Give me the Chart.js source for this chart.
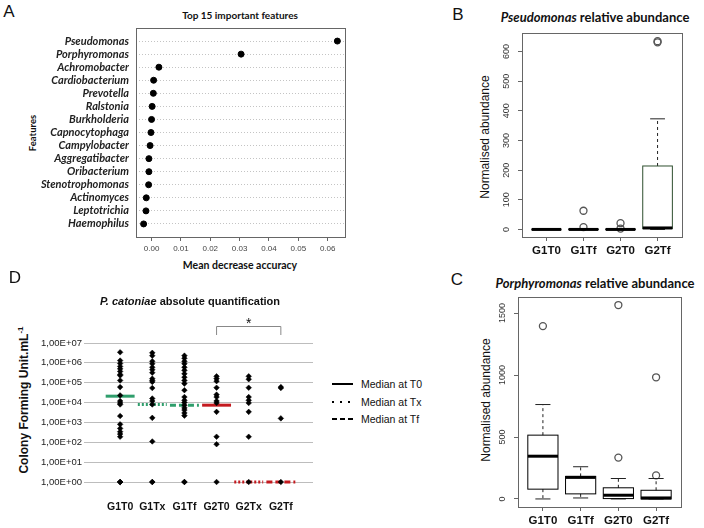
<!DOCTYPE html>
<html>
<head>
<meta charset="utf-8">
<script src="https://cdn.jsdelivr.net/npm/chart.js@4.4.1/dist/chart.umd.min.js"></script>
<style>
  body { margin: 0; width: 704px; height: 528px; position: relative; overflow: hidden; background: #fff; font-family: "Liberation Sans", Arial, sans-serif; color: #111; }
  canvas { position: absolute; }
  .t { position: absolute; transform: translate(-50%, -50%); white-space: nowrap; }
  .rot { transform: translate(-50%, -50%) rotate(-90deg); }
  .letter { font-size: 17px; }
  .cal { font-family: Lato, "Open Sans", sans-serif; font-weight: bold; }
  .leg { position: absolute; width: 21px; height: 2px; }
  .legt { position: absolute; font-size: 10.5px; transform: translateY(-50%); }
</style>
</head>
<body>
  <div class="t letter" style="left:9px;top:12px">A</div>
  <div class="t cal" style="left:240px;top:15px;font-size:10px">Top 15 important features</div>
  <div class="t cal rot" style="left:32px;top:133px;font-size:9.5px">Features</div>
  <div class="t cal" style="left:240px;top:265px;font-size:10.5px">Mean decrease accuracy</div>
  <canvas id="chartA" width="352" height="272" style="left:0;top:0"></canvas>

  <div class="t letter" style="left:458px;top:15px">B</div>
  <div class="t cal" style="left:595px;top:17px;font-size:13px"><i>Pseudomonas</i> relative abundance</div>
  <div class="t rot" style="left:485px;top:137px;font-size:12px">Normalised abundance</div>
  <canvas id="chartB" width="264" height="270" style="left:440px;top:0"></canvas>

  <div class="t letter" style="left:457px;top:280px">C</div>
  <div class="t cal" style="left:595px;top:283px;font-size:13px"><i>Porphyromonas</i> relative abundance</div>
  <div class="t rot" style="left:486px;top:400px;font-size:12px">Normalised abundance</div>
  <canvas id="chartC" width="264" height="256" style="left:440px;top:272px"></canvas>

  <div class="t letter" style="left:15px;top:278px">D</div>
  <div class="t" style="left:190px;top:301px;font-size:11px;font-weight:bold"><i>P. catoniae</i> absolute quantification</div>
  <div class="t rot" style="left:23px;top:400px;font-size:12px;font-weight:bold">Colony Forming Unit.mL<sup style="font-size:8px">-1</sup></div>
  <canvas id="chartD" width="330" height="225" style="left:0;top:290px"></canvas>

  <div class="leg" style="left:332px;top:383px;background:#000"></div>
  <div class="legt" style="left:361px;top:384px">Median at T0</div>
  <div class="leg" style="left:332px;top:401px;background:repeating-linear-gradient(90deg,#000 0 2px,transparent 2px 8px)"></div>
  <div class="legt" style="left:361px;top:402px">Median at Tx</div>
  <div class="leg" style="left:332px;top:418px;background:repeating-linear-gradient(90deg,#000 0 5px,transparent 5px 8px)"></div>
  <div class="legt" style="left:361px;top:419px">Median at Tf</div>

<script>
// Panel A - top 15 features
const aFeatures = ["Pseudomonas", "Porphyromonas", "Achromobacter", "Cardiobacterium", "Prevotella",
  "Ralstonia", "Burkholderia", "Capnocytophaga", "Campylobacter", "Aggregatibacter",
  "Oribacterium", "Stenotrophomonas", "Actinomyces", "Leptotrichia", "Haemophilus"];
const aImportance = [0.0633, 0.0305, 0.0025, 0.0007, 0.0006, 0.0002, 0.0, -0.0002, -0.0005,
  -0.0009, -0.0009, -0.001, -0.0018, -0.0019, -0.0027];
const aTicks = [0, 0.01, 0.02, 0.03, 0.04, 0.05, 0.06];

// Panels B and C - box plots
const boxCats = ["G1T0", "G1Tf", "G2T0", "G2Tf"];
const bLow = [0, 0, 0, 0];
const bQ1 = [0, 0, 0, 3];
const bMed = [0, 0, 0, 5];
const bQ3 = [0, 1, 1, 214];
const bHigh = [0, 2, 2, 373];
const bOutliers = [[], [63, 8], [21, 3], [631, 635]];
const bTicks = [0, 100, 200, 300, 400, 500, 600];

const cLow = [0, 8, 0, 0];
const cQ1 = [79, 41, 3, 0];
const cMed = [345, 174, 30, 8];
const cQ3 = [515, 182, 90, 70];
const cHigh = [762, 260, 165, 165];
const cOutliers = [[1395], [], [334, 1565], [190, 982]];
const cTicks = [0, 500, 1000, 1500];

// Panel D - CFU per group
const dCats = ["G1T0", "G1Tx", "G1Tf", "G2T0", "G2Tx", "G2Tf"];
const dG1T0 = [3.4e6, 1.3e6, 9.3e5, 6.6e5, 5e5, 3.7e5, 2.6e5, 2.3e5, 1.3e5, 6e4, 2.3e4, 1.2e4,
  9.5e3, 8e3, 2.1e3, 8e2, 5e2, 3.4e2, 2.6e2, 1.9e2, 1, 1, 1];
const dG1Tx = [3.2e6, 2.3e6, 1.2e6, 9e5, 6e5, 4.5e5, 3.2e5, 1.6e5, 1.3e5, 1.1e5, 5.4e4, 1.6e4,
  1.2e4, 8e3, 1.7e3, 1.1e2, 1, 1];
const dG1Tf = [2.3e6, 1.7e6, 1.2e6, 9e5, 6e5, 4.2e5, 2.8e5, 1.9e5, 1.3e5, 9e4, 4.2e4, 1.9e4,
  1.3e4, 1e4, 7.4e3, 5.4e3, 4.2e3, 3e3, 2.2e3, 1, 1];
const dG2T0 = [2.1e5, 1.6e5, 1.2e5, 5.6e4, 2.5e4, 1.9e4, 1.2e4, 9.5e3, 3.4e3, 1.9e2, 80, 1];
const dG2Tx = [2.1e5, 1.5e5, 5.6e4, 1.9e4, 1.3e4, 9.5e3, 3.4e3, 1.9e2, 1];
const dG2Tf = [6e4, 5.4e4, 1.6e3, 1];
const dMedians = [2.1e4, 8e3, 7.4e3, 7.4e3, 1, 1];
const dTickValues = [1, 10, 100, 1e3, 1e4, 1e5, 1e6, 1e7];
const dTickLabels = ["1,00E+00", "1,00E+01", "1,00E+02", "1,00E+03", "1,00E+04", "1,00E+05", "1,00E+06", "1,00E+07"];
const dSig = { from: 4, to: 6, label: "*" };

const rFont = "'Liberation Sans', Arial, sans-serif";

// frame around the plot region (R style box)
const framePlugin = {
  id: "frame",
  afterDraw(chart, args, opts) {
    const a = chart.chartArea;
    const c = chart.ctx;
    c.save();
    c.strokeStyle = opts.color || "#666";
    c.lineWidth = 1;
    c.strokeRect(Math.round(a.left) + 0.5, Math.round(a.top) + 0.5, Math.round(a.right - a.left), Math.round(a.bottom - a.top));
    c.restore();
  },
};

// R draws y labels parallel to the axis, so turn them by hand
const rotTickPlugin = {
  id: "rotTicks",
  afterDraw(chart, args, o) {
    const ys = chart.scales.y;
    const c = chart.ctx;
    c.save();
    c.fillStyle = "#333";
    c.font = "9px " + rFont;
    c.textAlign = "center";
    c.textBaseline = "middle";
    ys.ticks.forEach((t) => {
      c.save();
      c.translate(ys.right - o.offset, ys.getPixelForValue(t.value));
      c.rotate(-Math.PI / 2);
      c.fillText(String(t.value), 0, 0);
      c.restore();
    });
    c.restore();
  },
};

// box + whiskers, drawn through the chart scales
const boxPlugin = {
  id: "boxes",
  afterDatasetsDraw(chart, args, o) {
    const xs = chart.scales.x;
    const ys = chart.scales.y;
    const c = chart.ctx;
    const line = (x1, y1, x2, y2) => { c.beginPath(); c.moveTo(x1, y1); c.lineTo(x2, y2); c.stroke(); };
    o.med.forEach((m, i) => {
      const cx = xs.getPixelForValue(i + 1);
      const l = xs.getPixelForValue(i + 1 - 0.4);
      const r = xs.getPixelForValue(i + 1 + 0.4);
      const sl = xs.getPixelForValue(i + 1 - 0.2);
      const sr = xs.getPixelForValue(i + 1 + 0.2);
      const yLow = ys.getPixelForValue(o.low[i]);
      const yQ1 = ys.getPixelForValue(o.q1[i]);
      const yMed = ys.getPixelForValue(m);
      const yQ3 = ys.getPixelForValue(o.q3[i]);
      const yHigh = ys.getPixelForValue(o.high[i]);
      c.save();
      c.lineWidth = 1;
      c.strokeStyle = "#222";
      c.setLineDash([3, 3]);
      line(cx, yQ3, cx, yHigh);
      line(cx, yQ1, cx, yLow);
      c.setLineDash([]);
      line(sl, yHigh, sr, yHigh);
      line(sl, yLow, sr, yLow);
      c.strokeStyle = o.border[i];
      c.strokeRect(l, yQ3, r - l, yQ1 - yQ3);
      c.lineWidth = 3;
      c.strokeStyle = "#000";
      line(l, yMed, r, yMed);
      c.restore();
    });
  },
};

// significance bracket above panel D
const bracketPlugin = {
  id: "bracket",
  afterDraw(chart, args, o) {
    const xs = chart.scales.x;
    const top = chart.chartArea.top;
    const c = chart.ctx;
    const x1 = xs.getPixelForValue(o.from);
    const x2 = xs.getPixelForValue(o.to);
    c.save();
    c.strokeStyle = "#888";
    c.lineWidth = 1;
    c.beginPath();
    c.moveTo(x1, top - 8);
    c.lineTo(x1, top - 16.5);
    c.lineTo(x2, top - 16.5);
    c.lineTo(x2, top - 8);
    c.stroke();
    c.fillStyle = "#111";
    c.font = "14px " + rFont;
    c.textAlign = "center";
    c.fillText(o.label, (x1 + x2) / 2, top - 15);
    c.restore();
  },
};

function outlierPoints(list) {
  const pts = [];
  list.forEach((vals, i) => vals.forEach((v) => pts.push({ x: i + 1, y: v })));
  return pts;
}

//Panel A
document.addEventListener("DOMContentLoaded", function () {
  const ctx = document.getElementById("chartA").getContext("2d");
  new Chart(ctx, {
    type: "scatter",
    data: {
      datasets: [
        {
          data: aImportance.map((v, i) => ({ x: v, y: aFeatures.length - i })),
          backgroundColor: "#000",
          borderColor: "#000",
          pointRadius: 3,
          clip: false,
        },
      ],
    },
    options: {
      responsive: false,
      animation: false,
      layout: { padding: { left: 0, top: 28, right: 7, bottom: 0 } },
      plugins: { legend: { display: false }, tooltip: { enabled: false }, frame: { color: "#666" } },
      scales: {
        x: {
          min: -0.0053,
          max: 0.0659,
          afterBuildTicks: (s) => { s.ticks = aTicks.map((v) => ({ value: v })); },
          afterFit: (s) => { s.height = 35; },
          grid: { drawOnChartArea: false, tickLength: 4, color: "#666" },
          border: { display: false },
          ticks: { color: "#444", autoSkip: false, font: { size: 8, family: rFont }, padding: 3, callback: (v) => v.toFixed(2) },
        },
        y: {
          min: 0,
          max: 16,
          afterBuildTicks: (s) => { s.ticks = aFeatures.map((f, i) => ({ value: i + 1 })); },
          afterFit: (s) => { s.width = 136; },
          grid: { drawTicks: false, color: "#c4c4c4" },
          border: { display: false, dash: [1, 2] },
          ticks: {
            color: "#222",
            padding: 7,
            autoSkip: false,
            font: { size: 11, style: "italic", weight: "bold", family: "Lato, 'Open Sans', sans-serif" },
            callback: (v) => aFeatures[aFeatures.length - v],
          },
        },
      },
    },
    plugins: [framePlugin],
  });
});

function boxChart(id, low, q1, med, q3, high, outliers, ticks, ymin, ymax, border, pad, xh, yw) {
  const ctx = document.getElementById(id).getContext("2d");
  return new Chart(ctx, {
    type: "scatter",
    data: {
      datasets: [
        {
          data: outlierPoints(outliers),
          pointStyle: "circle",
          pointRadius: 3.5,
          borderWidth: 1.3,
          borderColor: "#555",
          backgroundColor: "rgba(0,0,0,0)",
          clip: false,
        },
      ],
    },
    options: {
      responsive: false,
      animation: false,
      layout: { padding: pad },
      plugins: {
        legend: { display: false },
        tooltip: { enabled: false },
        frame: { color: "#666" },
        rotTicks: { offset: 15.5 },
        boxes: { low: low, q1: q1, med: med, q3: q3, high: high, border: border },
      },
      scales: {
        x: {
          min: 0.34,
          max: 4.66,
          afterBuildTicks: (s) => { s.ticks = boxCats.map((c, i) => ({ value: i + 1 })); },
          afterFit: (s) => { s.height = xh; },
          grid: { drawOnChartArea: false, tickLength: 4, color: "#666" },
          border: { display: false },
          ticks: { color: "#111", autoSkip: false, padding: 3, font: { size: 11.5, weight: "bold", family: rFont }, callback: (v) => boxCats[v - 1] },
        },
        y: {
          min: ymin,
          max: ymax,
          afterBuildTicks: (s) => { s.ticks = ticks.map((v) => ({ value: v })); },
          afterFit: (s) => { s.width = yw; },
          grid: { drawOnChartArea: false, tickLength: 4, color: "#666" },
          border: { display: false },
          ticks: { display: false, autoSkip: false },
        },
      },
    },
    plugins: [framePlugin, boxPlugin, rotTickPlugin],
  });
}

//Panel B
document.addEventListener("DOMContentLoaded", function () {
  boxChart("chartB", bLow, bQ1, bMed, bQ3, bHigh, bOutliers, bTicks, -25.5, 662.5,
    ["#000", "#000", "#000", "#2f4f2f"], { left: 0, top: 33, right: 22, bottom: 0 }, 33, 82);
});

//Panel C
document.addEventListener("DOMContentLoaded", function () {
  boxChart("chartC", cLow, cQ1, cMed, cQ3, cHigh, cOutliers, cTicks, -65, 1630,
    ["#000", "#000", "#000", "#000"], { left: 0, top: 25, right: 23, bottom: 0 }, 21, 78);
});

//Panel D
document.addEventListener("DOMContentLoaded", function () {
  const ctx = document.getElementById("chartD").getContext("2d");
  const groups = [dG1T0, dG1Tx, dG1Tf, dG2T0, dG2Tx, dG2Tf];
  const medColors = ["#2f9e6c", "#2f9e6c", "#2f9e6c", "#c41a1f", "#c41a1f", "#c41a1f"];
  const medDash = [[], [2, 2], [6, 3], [], [2, 2], [6, 3]];

  const medianSets = dMedians.map((m, i) => ({
    type: "line",
    data: [{ x: i + 1 - 0.45, y: m }, { x: i + 1 + 0.45, y: m }],
    borderColor: medColors[i],
    borderWidth: 3,
    borderDash: medDash[i],
    pointRadius: 0,
    clip: false,
    order: 2,
  }));

  new Chart(ctx, {
    type: "scatter",
    data: {
      datasets: [
        {
          data: outlierPoints(groups),
          pointStyle: "rectRot",
          pointRadius: 2.8,
          backgroundColor: "#000",
          borderColor: "#000",
          borderWidth: 0.5,
          clip: false,
          order: 1,
        },
        ...medianSets,
      ],
    },
    options: {
      responsive: false,
      animation: false,
      layout: { padding: { left: 0, top: 53, right: 17, bottom: 0 } },
      plugins: { legend: { display: false }, tooltip: { enabled: false }, bracket: dSig },
      scales: {
        x: {
          type: "linear",
          min: 0,
          max: 7,
          afterBuildTicks: (s) => { s.ticks = dCats.map((c, i) => ({ value: i + 1 })); },
          afterFit: (s) => { s.height = 33; },
          grid: { display: false },
          border: { display: false },
          ticks: { color: "#111", autoSkip: false, padding: 11, font: { size: 10.5, weight: "bold", family: rFont }, callback: (v) => dCats[v - 1] },
        },
        y: {
          type: "logarithmic",
          min: 1,
          max: 1e7,
          afterBuildTicks: (s) => { s.ticks = dTickValues.map((v) => ({ value: v })); },
          afterFit: (s) => { s.width = 88; },
          grid: { color: "#bdbdbd", tickLength: 4 },
          border: { display: false },
          ticks: { color: "#222", autoSkip: false, padding: 2, font: { size: 9.5, family: rFont }, callback: (v, i) => dTickLabels[i] },
        },
      },
    },
    plugins: [bracketPlugin],
  });
});
</script>
</body>
</html>
